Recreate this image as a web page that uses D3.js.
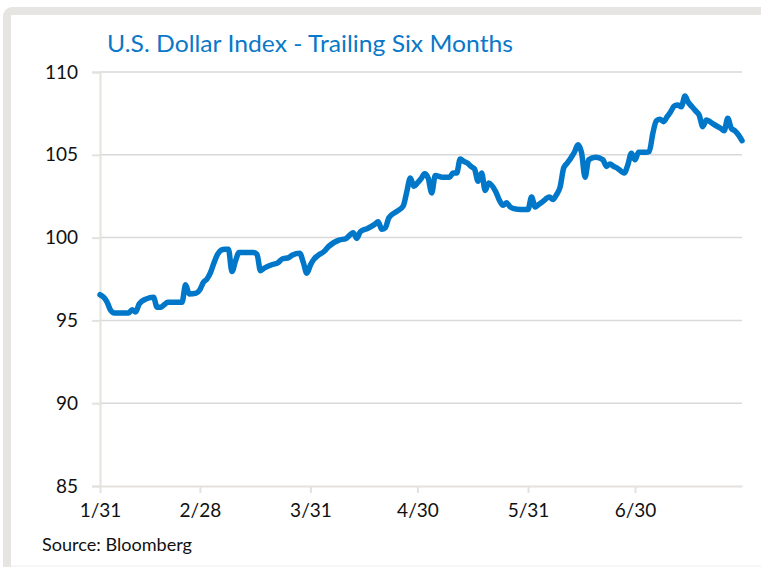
<!DOCTYPE html>
<html>
<head>
<meta charset="utf-8">
<script src="https://cdn.jsdelivr.net/npm/d3@7"></script>
<style>
  body { margin: 0; background: #fff; }
  svg text { font-family: Lato, "Open Sans", sans-serif; }
</style>
</head>
<body>
<svg id="chart" width="761" height="567"></svg>
<script>
// U.S. Dollar Index, 2022
const dates = [
  "2022-01-31","2022-02-01","2022-02-02","2022-02-03","2022-02-04","2022-02-06","2022-02-08","2022-02-09",
  "2022-02-10","2022-02-11","2022-02-13","2022-02-15","2022-02-16","2022-02-17","2022-02-18","2022-02-19",
  "2022-02-21","2022-02-23","2022-02-24","2022-02-25","2022-02-27","2022-02-28",
  "2022-03-01","2022-03-02","2022-03-03","2022-03-04","2022-03-05","2022-03-06","2022-03-07","2022-03-08",
  "2022-03-09","2022-03-10","2022-03-11","2022-03-13","2022-03-15","2022-03-16","2022-03-17","2022-03-18",
  "2022-03-20","2022-03-22","2022-03-23","2022-03-25","2022-03-26","2022-03-28","2022-03-29","2022-03-30",
  "2022-03-31",
  "2022-04-01","2022-04-02","2022-04-04","2022-04-05","2022-04-08","2022-04-10","2022-04-12","2022-04-13",
  "2022-04-14","2022-04-16","2022-04-18","2022-04-19","2022-04-20","2022-04-21","2022-04-22","2022-04-24",
  "2022-04-26","2022-04-27","2022-04-28","2022-04-29","2022-04-30",
  "2022-05-01","2022-05-02","2022-05-03","2022-05-04","2022-05-05","2022-05-07","2022-05-09","2022-05-10",
  "2022-05-11","2022-05-12","2022-05-13","2022-05-14","2022-05-15","2022-05-16","2022-05-17","2022-05-18",
  "2022-05-19","2022-05-20","2022-05-22","2022-05-23","2022-05-24","2022-05-25","2022-05-26","2022-05-27",
  "2022-05-29","2022-05-31",
  "2022-06-01","2022-06-02","2022-06-03","2022-06-04","2022-06-06","2022-06-07","2022-06-08","2022-06-09",
  "2022-06-10","2022-06-11","2022-06-12","2022-06-13","2022-06-14","2022-06-15","2022-06-16","2022-06-17",
  "2022-06-19","2022-06-21","2022-06-22","2022-06-23","2022-06-24","2022-06-25","2022-06-27","2022-06-28",
  "2022-06-29","2022-06-30",
  "2022-07-01","2022-07-03","2022-07-04","2022-07-05","2022-07-06","2022-07-07","2022-07-08","2022-07-09",
  "2022-07-10","2022-07-11","2022-07-12","2022-07-13","2022-07-14","2022-07-15","2022-07-16","2022-07-17",
  "2022-07-18","2022-07-19","2022-07-20","2022-07-21","2022-07-22","2022-07-24","2022-07-25","2022-07-26",
  "2022-07-27","2022-07-28","2022-07-29","2022-07-30"
];
const values = [
  96.55, 96.4, 96.1, 95.6, 95.45, 95.45, 95.45, 95.65,
  95.5, 96.0, 96.3, 96.4, 95.8, 95.8, 95.95, 96.1,
  96.1, 96.1, 97.15, 96.6, 96.65, 96.85,
  97.3, 97.5, 97.9, 98.5, 99.0, 99.25, 99.3, 99.3,
  97.95, 98.6, 99.1, 99.1, 99.1, 99.0, 98.0, 98.15,
  98.35, 98.5, 98.7, 98.8, 98.95, 99.05, 98.5, 97.85,
  98.35,
  98.7, 98.9, 99.2, 99.45, 99.85, 99.95, 100.3, 99.95,
  100.35, 100.55, 100.8, 100.95, 100.5, 100.6, 101.2, 101.55,
  101.9, 102.75, 103.6, 103.1, 103.3,
  103.55, 103.85, 103.6, 102.7, 103.75, 103.65, 103.65, 103.9,
  103.9, 104.75, 104.6, 104.5, 104.3, 104.15, 103.4, 103.9,
  102.85, 103.3, 102.75, 102.25, 101.95, 102.1, 101.85, 101.75,
  101.7, 101.7,
  102.45, 101.85, 102.0, 102.15, 102.45, 102.3, 102.6, 103.05,
  104.2, 104.5, 104.8, 105.15, 105.6, 105.15, 103.65, 104.7,
  104.85, 104.7, 104.3, 104.45, 104.3, 104.2, 103.9, 104.4,
  105.1, 104.7,
  105.15, 105.15, 105.2, 106.3, 107.05, 107.15, 107.0, 107.3,
  107.6, 107.95, 108.0, 107.9, 108.55, 108.15, 107.9, 107.65,
  107.4, 106.7, 107.1, 107.0, 106.85, 106.6, 106.45, 107.2,
  106.6, 106.45, 106.2, 105.85
];
const xTickDates = ["2022-01-31","2022-02-28","2022-03-31","2022-04-30","2022-05-31","2022-06-30"];
const yTicks = [85, 90, 95, 100, 105, 110];

const parse = d3.timeParse("%Y-%m-%d");
const data = dates.map((d, i) => ({ date: parse(d), value: values[i] }));

const svg = d3.select("#chart");
const margin = { top: 72, right: 19, bottom: 81, left: 100 };
const width = +svg.attr("width") - margin.left - margin.right;
const height = +svg.attr("height") - margin.top - margin.bottom;

// panel frame
svg.append("rect")
    .attr("x", 7).attr("y", 11)
    .attr("width", 820).attr("height", 620)
    .attr("rx", 5)
    .attr("fill", "#fff")
    .attr("stroke", "#e6e5e1")
    .attr("stroke-width", 8);
svg.append("line")
    .attr("x1", 11).attr("x2", 761)
    .attr("y1", 566).attr("y2", 566)
    .attr("stroke", "#efeeeb");

const g = svg.append("g").attr("transform", `translate(${margin.left},${margin.top})`);

const x = d3.scaleTime()
    .domain([parse("2022-01-31"), parse("2022-07-30")])
    .range([0, width]);

const y = d3.scaleLinear()
    .domain([85, 110])
    .range([height, 0]);

// gridlines
g.selectAll(".grid")
    .data(yTicks.filter(t => t > 85))
    .enter()
    .append("line")
    .attr("x1", 0).attr("x2", width)
    .attr("y1", d => y(d)).attr("y2", d => y(d))
    .attr("stroke", "#d9d9d9")
    .attr("stroke-width", 1.5);

const yAxis = g.append("g")
    .call(d3.axisLeft(y).tickValues(yTicks).tickSize(8).tickPadding(14));
yAxis.select(".domain").attr("stroke", "#e4e2dd").attr("stroke-width", 2);
yAxis.selectAll(".tick line").attr("stroke", "#e4e2dd").attr("stroke-width", 2);
yAxis.selectAll("text")
    .attr("fill", "#111")
    .style("font-size", "19px");

const xAxis = g.append("g")
    .attr("transform", `translate(0,${height})`)
    .call(d3.axisBottom(x)
        .tickValues(xTickDates.map(parse))
        .tickFormat(d3.timeFormat("%-m/%d"))
        .tickSize(7)
        .tickPadding(11)
        .tickSizeOuter(0));
xAxis.select(".domain").attr("stroke", "#e4e2dd").attr("stroke-width", 2);
xAxis.selectAll(".tick line").attr("stroke", "#e4e2dd").attr("stroke-width", 2);
xAxis.selectAll("text")
    .attr("fill", "#111")
    .style("font-size", "19px");

const line = d3.line()
    .x(d => x(d.date))
    .y(d => y(d.value))
    .curve(d3.curveMonotoneX);

g.append("path")
    .datum(data)
    .attr("fill", "none")
    .attr("stroke", "#0077c8")
    .attr("stroke-width", 5.5)
    .attr("stroke-linejoin", "round")
    .attr("stroke-linecap", "round")
    .attr("d", line);

svg.append("text")
    .attr("x", 107).attr("y", 52)
    .attr("fill", "#0a78c8")
    .attr("textLength", 406)
    .attr("lengthAdjust", "spacingAndGlyphs")
    .style("font-size", "23.5px")
    .text("U.S. Dollar Index - Trailing Six Months");

svg.append("text")
    .attr("x", 42).attr("y", 551)
    .attr("fill", "#111")
    .attr("textLength", 150)
    .attr("lengthAdjust", "spacingAndGlyphs")
    .style("font-size", "17px")
    .text("Source: Bloomberg");
</script>
</body>
</html>
